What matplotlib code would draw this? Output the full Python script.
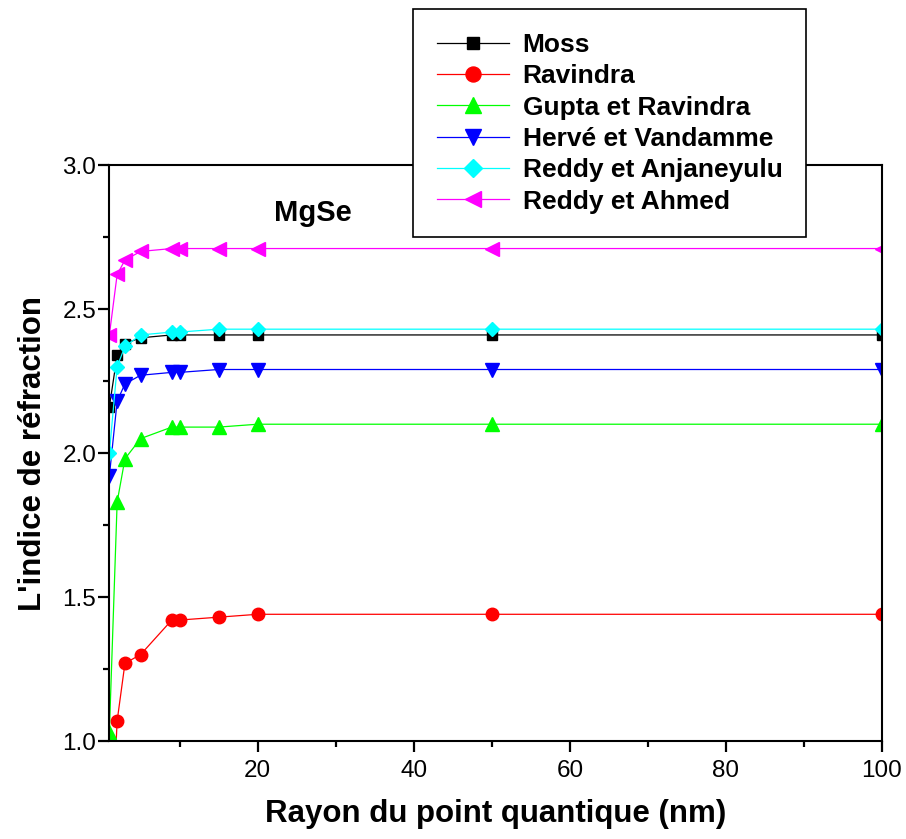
import numpy as np
import matplotlib
matplotlib.use('Agg')
import matplotlib.pyplot as plt

plt.rcParams['font.family'] = ['Liberation Sans', 'DejaVu Sans']

# rayon du point quantique (nm)
rayon = [1, 2, 3, 5, 9, 10, 15, 20, 50, 100]

# indice de refraction
moss = [2.16, 2.34, 2.38, 2.40, 2.41, 2.41, 2.41, 2.41, 2.41, 2.41]
ravindra = [0.50, 1.07, 1.27, 1.30, 1.42, 1.42, 1.43, 1.44, 1.44, 1.44]
gupta = [1.03, 1.83, 1.98, 2.05, 2.09, 2.09, 2.09, 2.10, 2.10, 2.10]
herve = [1.92, 2.18, 2.24, 2.27, 2.28, 2.28, 2.29, 2.29, 2.29, 2.29]
anjaneyulu = [2.00, 2.30, 2.37, 2.41, 2.42, 2.42, 2.43, 2.43, 2.43, 2.43]
ahmed = [2.41, 2.62, 2.67, 2.70, 2.71, 2.71, 2.71, 2.71, 2.71, 2.71]

series = [
    ('Moss', moss, 'black', 's', 7.5),
    ('Ravindra', ravindra, '#ff0000', 'o', 9),
    ('Gupta et Ravindra', gupta, '#00ff00', '^', 9.5),
    ('Hervé et Vandamme', herve, '#0000ff', 'v', 9.5),
    ('Reddy et Anjaneyulu', anjaneyulu, '#00ffff', 'D', 7.5),
    ('Reddy et Ahmed', ahmed, '#ff00ff', '<', 9.5),
]

fig = plt.figure(figsize=(9.06, 8.39), dpi=100)
ax = fig.add_axes([0.1207, 0.1168, 0.8528, 0.6865])

for name, vals, col, mk, ms in series:
    ax.plot(rayon, vals, color=col, lw=0.9, marker=mk, markersize=ms,
            markeredgecolor=col, markerfacecolor=col, label=name)

ax.set_xlim(1, 100)
ax.set_ylim(1.0, 3.0)
ax.set_xticks([20, 40, 60, 80, 100])
ax.set_xticks([10, 30, 50, 70, 90], minor=True)
ax.set_yticks([1.0, 1.5, 2.0, 2.5, 3.0])
ax.set_yticklabels(['1.0', '1.5', '2.0', '2.5', '3.0'])
ax.set_yticks([1.25, 1.75, 2.25, 2.75], minor=True)
ax.tick_params(which='major', direction='out', length=8, width=1.6, labelsize=17.5)
ax.tick_params(axis='x', which='major', pad=6)
ax.tick_params(axis='y', which='major', pad=1.5)
ax.tick_params(which='minor', direction='out', length=4, width=1.6)
for s in ax.spines.values():
    s.set_linewidth(1.5)

ax.set_xlabel('Rayon du point quantique (nm)', fontsize=22.5, fontweight='bold', labelpad=12)
ax.set_ylabel("L'indice de réfraction", fontsize=22.5, fontweight='bold', labelpad=10)

ax.text(0.264, 0.917, 'MgSe', transform=ax.transAxes, fontsize=21,
        fontweight='bold', ha='center', va='center')

leg = ax.legend(loc='upper left', bbox_to_anchor=(413 / 906, 1 - 9 / 839),
                bbox_transform=fig.transFigure, borderaxespad=0,
                fancybox=False, framealpha=1, edgecolor='black',
                prop={'size': 19, 'weight': 'bold'}, handlelength=2.75,
                handletextpad=0.5, borderpad=0.9, labelspacing=0.28,
                markerscale=1.2)
leg.get_frame().set_linewidth(1.2)

fig.savefig('out.png', dpi=100)
